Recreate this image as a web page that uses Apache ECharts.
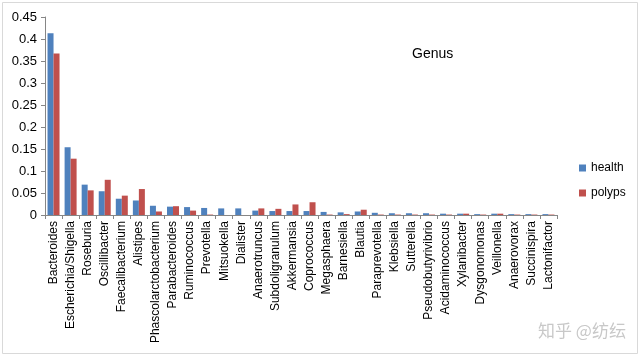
<!DOCTYPE html>
<html><head><meta charset="utf-8">
<script src="https://cdn.jsdelivr.net/npm/echarts@6/dist/echarts.min.js"></script>
<style>html,body{margin:0;padding:0;background:#fff}#c{width:640px;height:357px}</style>
</head><body><div id="c"></div>
<script>
const categories = ["Bacteroides","Escherichia/Shigella","Roseburia","Oscillibacter","Faecalibacterium","Alistipes","Phascolarctobacterium","Parabacteroides","Ruminococcus","Prevotella","Mitsuokella","Dialister","Anaerotruncus","Subdoligranulum","Akkermansia","Coprococcus","Megasphaera","Barnesiella","Blautia","Paraprevotella","Klebsiella","Sutterella","Pseudobutyrivibrio","Acidaminococcus","Xylanibacter","Dysgonomonas","Veillonella","Anaerovorax","Succinispira","Lactonifactor"];
const health = [0.413,0.154,0.069,0.054,0.037,0.033,0.021,0.019,0.018,0.016,0.015,0.015,0.010,0.009,0.009,0.009,0.007,0.006,0.008,0.005,0.004,0.004,0.004,0.003,0.003,0.002,0.003,0.002,0.002,0.002];
const polyps = [0.367,0.128,0.056,0.080,0.044,0.059,0.008,0.020,0.010,0.001,0.000,0.000,0.015,0.014,0.024,0.029,0.001,0.002,0.012,0.001,0.001,0.001,0.001,0.001,0.003,0.001,0.003,0.001,0.001,0.001];
const yTicks = [0,0.05,0.1,0.15,0.2,0.25,0.3,0.35,0.4,0.45];

const chart = echarts.init(document.getElementById('c'));
const font = '"Liberation Sans", "Open Sans", sans-serif';
chart.setOption({
  animation:false,
  backgroundColor:'#fff',
  title:{text:'Genus',left:407,top:42,textStyle:{fontFamily:font,fontSize:14,fontWeight:'normal',color:'#000'}},
  legend:{orient:'vertical',left:574,top:157,itemWidth:7,itemHeight:7,itemGap:13,icon:'rect',
    textStyle:{fontFamily:font,fontSize:12,color:'#000'},data:['health','polyps']},
  grid:{left:45,right:83,top:17,bottom:142,containLabel:false},
  xAxis:{type:'category',data:categories,
    axisLine:{lineStyle:{color:'#868686'}},
    axisTick:{show:true,alignWithLabel:false,length:4,lineStyle:{color:'#868686'}},
    axisLabel:{rotate:90,interval:0,fontFamily:font,fontSize:12,color:'#000',margin:6}},
  yAxis:{type:'value',min:0,max:0.45,interval:0.05,
    splitLine:{show:false},
    axisLine:{show:true,lineStyle:{color:'#868686'}},
    axisTick:{show:true,length:4,lineStyle:{color:'#868686'}},
    axisLabel:{fontFamily:font,fontSize:13,color:'#000',margin:8,formatter:v=>{const t=yTicks.find(x=>Math.abs(x-v)<1e-9);return String(+(t??v).toFixed(2));}}},
  series:[
    {name:'health',type:'bar',data:health,barWidth:6,barGap:'0%',itemStyle:{color:'#4F81BD'}},
    {name:'polyps',type:'bar',data:polyps,barWidth:6,barGap:'0%',itemStyle:{color:'#C0504D'}}
  ],
  graphic:[
    {type:'rect',shape:{x:2.5,y:2.5,width:635,height:351},style:{fill:null,stroke:'#d9d9d9',lineWidth:1},silent:true},
    {type:'text',left:538,top:322,style:{text:'知乎 @纺纭',fontFamily:'"Noto Sans CJK SC"',fontSize:17,fill:'#c8c8c8'},silent:true}
  ]
});
</script></body></html>
